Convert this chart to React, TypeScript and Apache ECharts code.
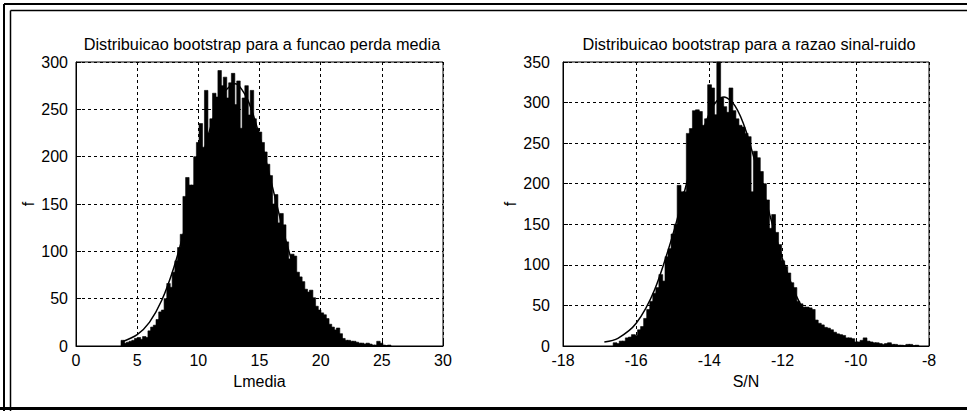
import React, { useEffect, useRef } from "react";
import * as echarts from "echarts";

// Left histogram: bootstrap distribution of mean loss (Lmedia)
const binStartL = 3.68;
const binWidthL = 0.22;
const binCountsL = [
  6, 3, 4, 5, 6, 8, 9, 7, 10, 9,
  16, 20, 22, 28, 36, 38, 50, 66, 62, 78,
  90, 104, 118, 158, 178, 170, 170, 200, 215, 235,
  210, 270, 225, 240, 267, 263, 291, 275, 284, 262,
  278, 288, 255, 280, 230, 262, 275, 244, 270, 240,
  230, 226, 215, 205, 192, 180, 150, 160, 130, 140,
  128, 110, 92, 97, 95, 78, 73, 68, 60, 57,
  59, 51, 42, 38, 35, 33, 29, 23, 20, 17,
  19, 13, 8, 6, 6, 5, 5, 4, 3, 3,
  2, 3, 2, 1, 1, 5, 3, 1, 0, 1,
];
const curveXL = [3.7, 5, 6, 7, 8, 9, 10, 11, 12, 13, 14, 15, 16, 17, 18, 19, 20, 21, 22, 23, 24, 25, 25.7];
const curveYL = [4, 12, 25, 48, 83, 129, 181, 231, 266, 277, 261, 222, 171, 119, 75, 42, 22, 10, 4.3, 1.6, 0.5, 0.15, 0.05];

// Right histogram: bootstrap distribution of signal-to-noise ratio (S/N)
const binStartR = -16.63;
const binWidthR = 0.0833;
const binCountsR = [
  4, 3, 6, 6, 10, 11, 14, 13, 20, 24,
  34, 45, 55, 65, 72, 88, 80, 110, 120, 138,
  150, 198, 190, 190, 262, 268, 290, 291, 289, 272,
  280, 322, 318, 285, 350, 306, 295, 288, 318, 290,
  280, 272, 270, 262, 258, 190, 240, 232, 215, 200,
  180, 145, 162, 140, 125, 105, 98, 90, 78, 72,
  55, 52, 48, 48, 47, 45, 32, 28, 26, 23,
  22, 20, 17, 15, 14, 13, 10, 10, 9, 5,
  5, 7, 10, 6, 5, 4, 4, 3, 2, 3,
  4, 2, 2, 1, 1, 0, 2, 2, 0, 1,
];
const curveXR = [-16.87, -16.5, -16, -15.5, -15, -14.5, -14, -13.8, -13.6, -13.3, -13, -12.5, -12, -11.5, -11, -10.5, -10, -9.5, -9, -8.3];
const curveYR = [5, 9.5, 28, 69, 137, 220, 287, 302, 307, 296, 265, 186, 107, 50, 19, 5.8, 1.4, 0.3, 0.05, 0];

const titles = [
  "Distribuicao bootstrap para a funcao perda media",
  "Distribuicao bootstrap para a razao sinal-ruido",
];
const xNames = ["Lmedia", "S/N"];
const yName = "f";

const FONT = "'Liberation Sans', Arial, Helvetica, sans-serif";

function binsData(start: number, width: number, counts: number[]) {
  return counts.map((c, i) => [start + i * width, start + (i + 1) * width, c]);
}

function renderBar(params: any, api: any) {
  const x0 = api.value(0);
  const x1 = api.value(1);
  const v = api.value(2);
  const pTop = api.coord([x0, v]);
  const pBot = api.coord([x1, 0]);
  return {
    type: "rect",
    shape: { x: pTop[0], y: pTop[1], width: pBot[0] - pTop[0] + 0.8, height: pBot[1] - pTop[1] },
    style: { fill: "#000", stroke: "#000", lineWidth: 0.6 },
  };
}

export default function App() {
  const ref = useRef<HTMLDivElement>(null);
  useEffect(() => {
    if (!ref.current) return;
    const chart = echarts.init(ref.current, undefined, { renderer: "svg" });
    const gridLine = { show: true, lineStyle: { color: "#000", type: [3, 3] as any, width: 1 } };
    const axisLabel = { color: "#000", fontSize: 16, fontFamily: FONT };
    const nameStyle = { color: "#000", fontSize: 16, fontFamily: FONT };
    const mkX = (gi: number, min: number, max: number, interval: number) => ({
      type: "value",
      gridIndex: gi,
      min,
      max,
      interval,
      name: xNames[gi],
      nameLocation: "middle",
      nameGap: 27,
      nameTextStyle: nameStyle,
      axisLine: { show: true, onZero: false, lineStyle: { color: "#000", width: 1 } },
      axisTick: { show: true, inside: true, length: 5, lineStyle: { color: "#000" } },
      axisLabel: { ...axisLabel, margin: 6 },
      splitLine: gridLine,
    });
    const mkY = (gi: number, max: number, margin: number, gap: number) => ({
      type: "value",
      gridIndex: gi,
      min: 0,
      max,
      interval: 50,
      name: yName,
      nameLocation: "middle",
      nameGap: gap,
      nameRotate: 90,
      nameTextStyle: nameStyle,
      axisLine: { show: true, lineStyle: { color: "#000", width: 1 } },
      axisTick: { show: true, inside: true, length: 5, lineStyle: { color: "#000" } },
      axisLabel: { ...axisLabel, margin },
      splitLine: gridLine,
    });
    chart.setOption({
      animation: false,
      backgroundColor: "#fff",
      textStyle: { fontFamily: FONT },
      title: [
        {
          text: titles[0],
          left: 257,
          textAlign: "center",
          top: 31,
          textStyle: { color: "#000", fontSize: 16.3, fontWeight: "normal", fontFamily: FONT },
        },
        {
          text: titles[1],
          left: 744,
          textAlign: "center",
          top: 31,
          textStyle: { color: "#000", fontSize: 16.3, fontWeight: "normal", fontFamily: FONT },
        },
      ],
      grid: [
        { left: 76, width: 367, top: 62, height: 284, show: true, borderColor: "#000", borderWidth: 1, backgroundColor: "#fff" },
        { left: 563, width: 366, top: 62, height: 284, show: true, borderColor: "#000", borderWidth: 1, backgroundColor: "#fff" },
      ],
      xAxis: [mkX(0, 0, 30, 5), mkX(1, -18, -8, 2)],
      yAxis: [mkY(0, 300, 8, 40), mkY(1, 350, 13, 45)],
      series: [
        {
          type: "custom",
          xAxisIndex: 0,
          yAxisIndex: 0,
          renderItem: renderBar,
          encode: { x: [0, 1], y: 2 },
          data: binsData(binStartL, binWidthL, binCountsL),
          z: 3,
        },
        {
          type: "line",
          xAxisIndex: 0,
          yAxisIndex: 0,
          data: curveXL.map((x, i) => [x, curveYL[i]]),
          smooth: 0.3,
          showSymbol: false,
          lineStyle: { color: "#000", width: 1.5 },
          z: 4,
        },
        {
          type: "custom",
          xAxisIndex: 1,
          yAxisIndex: 1,
          renderItem: renderBar,
          encode: { x: [0, 1], y: 2 },
          data: binsData(binStartR, binWidthR, binCountsR),
          z: 3,
        },
        {
          type: "line",
          xAxisIndex: 1,
          yAxisIndex: 1,
          data: curveXR.map((x, i) => [x, curveYR[i]]),
          smooth: 0.3,
          showSymbol: false,
          lineStyle: { color: "#000", width: 1.5 },
          z: 4,
        },
      ],
      graphic: [
        { type: "line", shape: { x1: 4, y1: 4, x2: 967, y2: 4 }, style: { stroke: "#000", lineWidth: 2 }, silent: true },
        { type: "line", shape: { x1: 4, y1: 4, x2: 4, y2: 411 }, style: { stroke: "#000", lineWidth: 2 }, silent: true },
        { type: "line", shape: { x1: 10.5, y1: 10.5, x2: 967, y2: 10.5 }, style: { stroke: "#000", lineWidth: 1.5 }, silent: true },
        { type: "line", shape: { x1: 10.5, y1: 10.5, x2: 10.5, y2: 411 }, style: { stroke: "#000", lineWidth: 1.5 }, silent: true },
        { type: "line", shape: { x1: 0, y1: 408.5, x2: 967, y2: 408.5 }, style: { stroke: "#000", lineWidth: 3 }, silent: true },
      ],
    });
    return () => chart.dispose();
  }, []);
  return (
    <div
      ref={ref}
      style={{ position: "fixed", left: 0, top: 0, width: 967, height: 411 }}
    />
  );
}
